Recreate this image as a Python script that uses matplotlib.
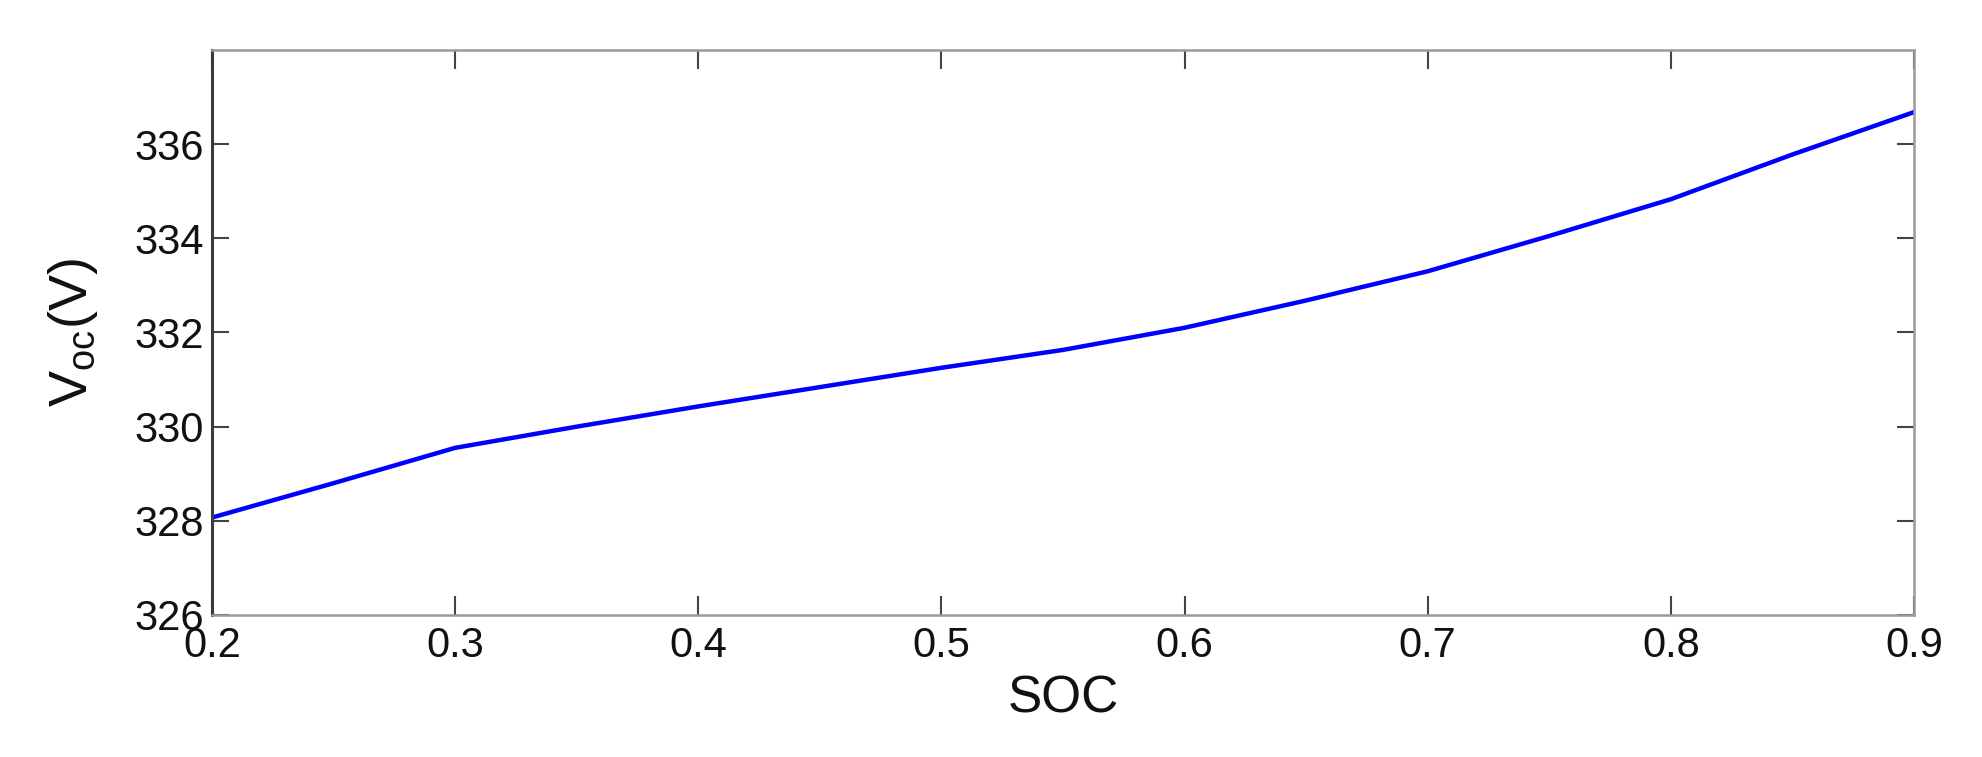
#!/usr/bin/env python3
"""Open-circuit voltage vs state of charge."""

import matplotlib
matplotlib.use('Agg')
import matplotlib.pyplot as plt

soc = [0.20, 0.25, 0.30, 0.35, 0.40, 0.45, 0.50, 0.55,
       0.60, 0.65, 0.70, 0.75, 0.80, 0.85, 0.90]
voc = [328.07, 328.80, 329.55, 330.00, 330.43, 330.84, 331.25, 331.63,
       332.10, 332.68, 333.30, 334.05, 334.83, 335.78, 336.68]

x_ticks = [0.2, 0.3, 0.4, 0.5, 0.6, 0.7, 0.8, 0.9]
y_ticks = [326, 328, 330, 332, 334, 336]

plt.rcParams['font.family'] = ['Liberation Sans', 'DejaVu Sans']
plt.rcParams['mathtext.fontset'] = 'custom'
plt.rcParams['mathtext.rm'] = 'Liberation Sans'
plt.rcParams['mathtext.it'] = 'Liberation Sans'


def main():
    fig = plt.figure(figsize=(19.82, 7.57), dpi=100)
    ax = fig.add_axes([0.107, 0.1876, 0.8587, 0.7464])

    ax.plot(soc, voc, '-', color='#0000ff', linewidth=3.2,
            solid_joinstyle='round')

    ax.set_xlim(0.2, 0.9)
    ax.set_ylim(326, 338)
    ax.set_xticks(x_ticks)
    ax.set_xticklabels([f'{t:.1f}' for t in x_ticks])
    ax.set_yticks(y_ticks)
    ax.set_yticklabels([str(t) for t in y_ticks])

    ax.tick_params(axis='both', direction='in', top=True, right=True,
                   labelsize=30, colors='#444444', labelcolor='#111111',
                   width=1.5)
    ax.tick_params(axis='x', length=14, pad=8)
    ax.tick_params(axis='y', length=12, pad=6)

    ax.spines['left'].set_color('#3a3a3a')
    ax.spines['left'].set_linewidth(2.2)
    for side in ('top', 'bottom', 'right'):
        ax.spines[side].set_color('#9a9a9a')
        ax.spines[side].set_linewidth(1.8)

    ax.set_xlabel('SOC', fontsize=37, color='#111111')
    ax.set_ylabel(r'$\mathregular{V_{oc}(V)}$', fontsize=39, color='#111111')
    ax.xaxis.set_label_coords(0.5, -0.105)
    ax.yaxis.set_label_coords(-0.066, 0.5)

    fig.savefig('out.png', dpi=100)


if __name__ == '__main__':
    main()
